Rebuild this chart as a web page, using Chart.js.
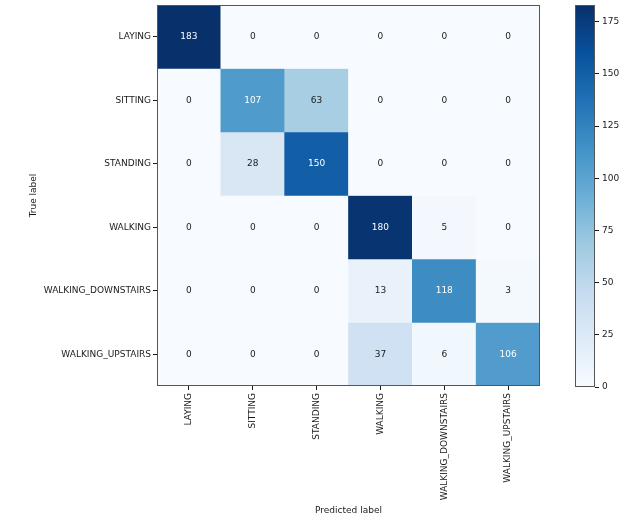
<!DOCTYPE html>
<html>
<head>
<meta charset="utf-8">
<script src="https://cdn.jsdelivr.net/npm/chart.js@4.4.1/dist/chart.umd.min.js"></script>
<style>
html,body{margin:0;padding:0;background:#fff;}
#wrap{position:relative;width:636px;height:520px;}
canvas{position:absolute;left:0;top:0;}
</style>
</head>
<body>
<div id="wrap">
<canvas id="main" width="636" height="520"></canvas>
<canvas id="cbar" width="636" height="520"></canvas>
</div>
<script>
const categories = ["LAYING","SITTING","STANDING","WALKING","WALKING_DOWNSTAIRS","WALKING_UPSTAIRS"];
const rowLAYING             = [183, 0, 0, 0, 0, 0];
const rowSITTING            = [0, 107, 63, 0, 0, 0];
const rowSTANDING           = [0, 28, 150, 0, 0, 0];
const rowWALKING            = [0, 0, 0, 180, 5, 0];
const rowWALKING_DOWNSTAIRS = [0, 0, 0, 13, 118, 3];
const rowWALKING_UPSTAIRS   = [0, 0, 0, 37, 6, 106];
const matrix = [rowLAYING,rowSITTING,rowSTANDING,rowWALKING,rowWALKING_DOWNSTAIRS,rowWALKING_UPSTAIRS];
const colorbarTicks = [0,25,50,75,100,125,150,175];

const vmin = 0;
const vmax = Math.max(...matrix.flat());

const blues = ["#f7fbff","#deebf7","#c6dbef","#9ecae1","#6baed6","#4292c6","#2171b5","#08519c","#08306b"];
function hexToRgb(h){return [parseInt(h.slice(1,3),16),parseInt(h.slice(3,5),16),parseInt(h.slice(5,7),16)];}
const bluesRgb = blues.map(hexToRgb);
function cmap(t){
  t = Math.max(0, Math.min(1, t));
  const p = t*(bluesRgb.length-1);
  const i = Math.min(Math.floor(p), bluesRgb.length-2);
  const f = p - i;
  const a = bluesRgb[i], b = bluesRgb[i+1];
  return `rgb(${Math.round(a[0]+(b[0]-a[0])*f)},${Math.round(a[1]+(b[1]-a[1])*f)},${Math.round(a[2]+(b[2]-a[2])*f)})`;
}

const FONT = "DejaVu Sans";
const TXT = "#1a1a1a";
const SPINE = "#555";

const datasets = matrix.map((row, i) => ({
  label: categories[i],
  data: row.map(() => [i - 0.5, i + 0.5]),
  values: row,
  backgroundColor: row.map(v => cmap((v - vmin)/(vmax - vmin))),
  borderWidth: 0,
  grouped: false,
  barPercentage: 1.0,
  categoryPercentage: 1.0
}));

const framePlugin = {
  id: 'frame',
  afterDraw(chart){
    const {ctx, chartArea:a} = chart;
    ctx.save();
    ctx.strokeStyle = SPINE;
    ctx.lineWidth = 1;
    ctx.strokeRect(a.left+0.5, a.top+0.5, a.right-a.left-1, a.bottom-a.top-1);
    ctx.restore();
  }
};

const cellTextPlugin = {
  id: 'cellText',
  afterDatasetsDraw(chart){
    const ctx = chart.ctx;
    ctx.save();
    ctx.font = `9px "${FONT}"`;
    ctx.textAlign = 'center';
    ctx.textBaseline = 'middle';
    chart.data.datasets.forEach((ds, di) => {
      const meta = chart.getDatasetMeta(di);
      meta.data.forEach((bar, j) => {
        const v = ds.values[j];
        const cy = (bar.y + bar.base)/2;
        ctx.fillStyle = v > (vmax + vmin)/2 ? "#ffffff" : TXT;
        ctx.fillText(String(v), bar.x, cy);
      });
    });
    ctx.restore();
  }
};

function zeroPad(scale){
  scale.paddingTop = 0; scale.paddingBottom = 0;
  scale.paddingLeft = 0; scale.paddingRight = 0;
}

new Chart(document.getElementById('main'), {
  type: 'bar',
  data: { labels: categories, datasets },
  options: {
    responsive: false,
    animation: false,
    devicePixelRatio: 1,
    layout: { padding: { left: 0, right: 96, top: 5, bottom: 0 } },
    plugins: { legend: { display: false }, tooltip: { enabled: false } },
    scales: {
      x: {
        type: 'category',
        offset: true,
        grid: { display: true, drawOnChartArea: false, drawTicks: true, tickLength: 4, tickColor: TXT, offset: false },
        border: { display: false },
        ticks: { color: TXT, font: { family: FONT, size: 9 }, minRotation: 90, maxRotation: 90, autoSkip: false, padding: 3 },
        title: { display: true, text: 'Predicted label', color: TXT, font: { family: FONT, size: 9 }, padding: { top: 4, bottom: 4 } },
        afterFit(scale){ scale.height = 134; zeroPad(scale); }
      },
      y: {
        type: 'linear',
        min: -0.5,
        max: 5.5,
        reverse: true,
        afterBuildTicks(scale){ scale.ticks = categories.map((c, i) => ({ value: i })); },
        grid: { display: true, drawOnChartArea: false, drawTicks: true, tickLength: 4, tickColor: TXT },
        border: { display: false },
        ticks: { color: TXT, font: { family: FONT, size: 9 }, autoSkip: false, padding: 2, callback: (v) => categories[v] },
        title: { display: true, text: 'True label', color: TXT, font: { family: FONT, size: 9 }, padding: { top: 28, bottom: 0 } },
        afterFit(scale){ scale.width = 157; zeroPad(scale); }
      }
    }
  },
  plugins: [framePlugin, cellTextPlugin]
});

new Chart(document.getElementById('cbar'), {
  type: 'bar',
  data: {
    labels: [''],
    datasets: [{
      data: [[vmin, vmax]],
      borderWidth: 0,
      barPercentage: 1.0,
      categoryPercentage: 1.0,
      backgroundColor(context){
        const chart = context.chart;
        const a = chart.chartArea;
        if (!a) return blues[0];
        const ys = chart.scales.y;
        const g = chart.ctx.createLinearGradient(0, ys.getPixelForValue(vmin), 0, ys.getPixelForValue(vmax));
        blues.forEach((c, k) => g.addColorStop(k/(blues.length-1), c));
        return g;
      }
    }]
  },
  options: {
    responsive: false,
    animation: false,
    devicePixelRatio: 1,
    layout: { padding: { left: 575, right: 0, top: 5, bottom: 133 } },
    plugins: { legend: { display: false }, tooltip: { enabled: false } },
    scales: {
      x: { display: false },
      y: {
        position: 'right',
        min: vmin,
        max: vmax,
        afterBuildTicks(scale){ scale.ticks = colorbarTicks.map(v => ({ value: v })); },
        grid: { display: true, drawOnChartArea: false, drawTicks: true, tickLength: 4, tickColor: TXT },
        border: { display: false },
        ticks: { color: TXT, font: { family: FONT, size: 9 }, padding: 3 },
        afterFit(scale){ scale.width = 41; zeroPad(scale); }
      }
    }
  },
  plugins: [framePlugin]
});
</script>
</body>
</html>
